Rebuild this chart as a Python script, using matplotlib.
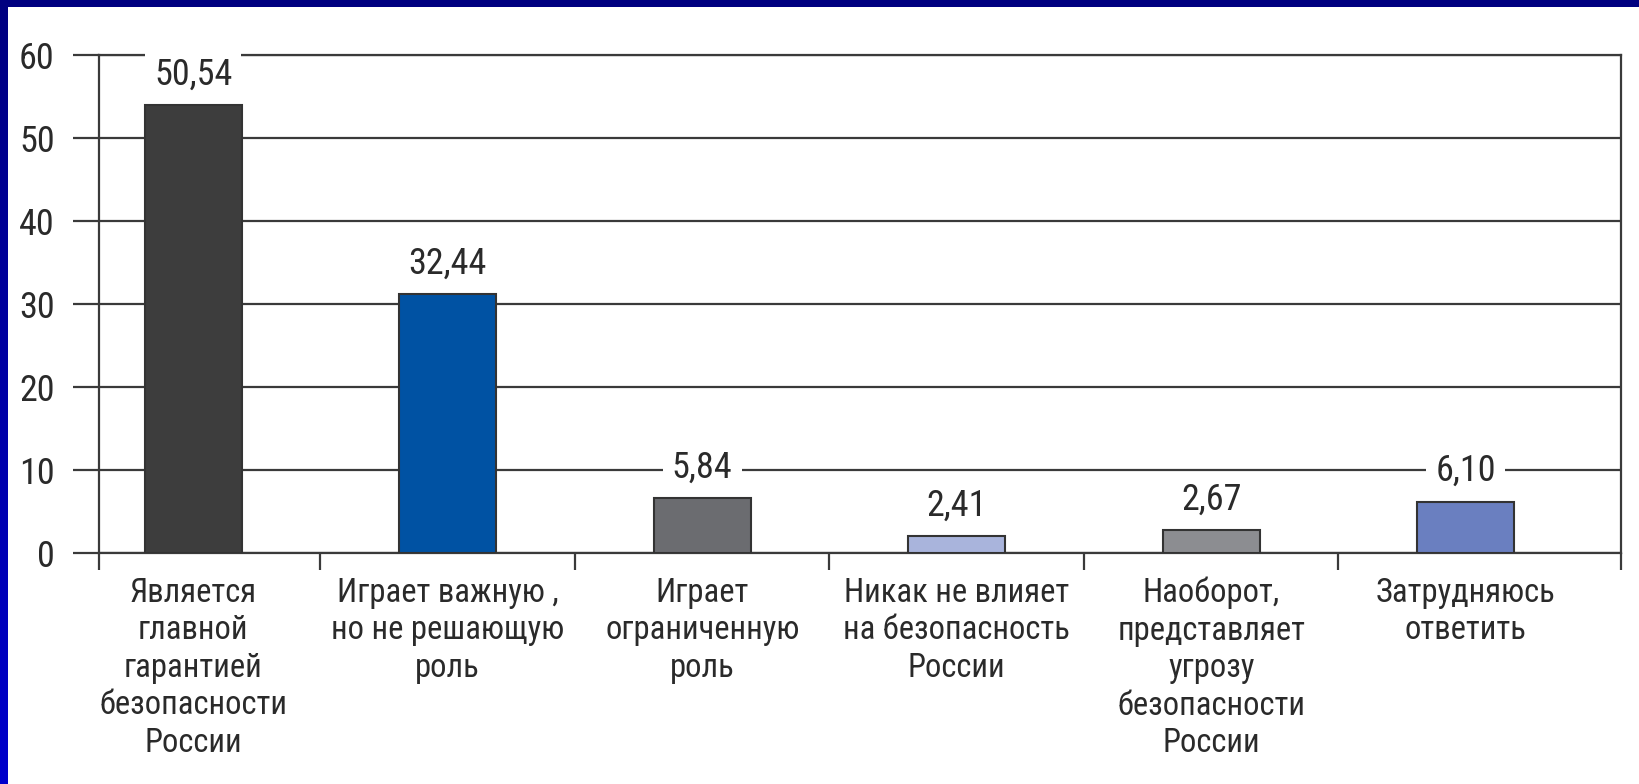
import os
import numpy as np
import matplotlib
matplotlib.use("Agg")
import matplotlib.pyplot as plt
import matplotlib.font_manager as fm
from matplotlib.patches import Rectangle
from matplotlib.colors import LinearSegmentedColormap

# answers (category labels) and bar heights as drawn in the picture
categories = [
    "Является\nглавной\nгарантией\nбезопасности\nРоссии",
    "Играет важную ,\nно не решающую\nроль",
    "Играет\nограниченную\nроль",
    "Никак не влияет\nна безопасность\nРоссии",
    "Наоборот,\nпредставляет\nугрозу\nбезопасности\nРоссии",
    "Затрудняюсь\nответить",
]
heights = [54.0, 31.2, 6.6, 2.0, 2.8, 6.2]
value_labels = ["50,54", "32,44", "5,84", "2,41", "2,67", "6,10"]
bar_colors = ["#3d3d3d", "#0052a3", "#6b6c70", "#a9b4dc", "#8c8d91", "#6a7fc0"]
yticks = [0, 10, 20, 30, 40, 50, 60]


def pick_condensed():
    # look for a narrow sans font with cyrillic, the original uses a condensed face
    best = None
    for f in fm.fontManager.ttflist:
        fn = os.path.basename(f.fname).lower()
        name = f.name.lower()
        if any(k in fn for k in ("mono", "serif", "cjk", "italic", "oblique", "bold", "light", "thin", "medium", "black", "display", "semibold", "extrabold")):
            continue
        if f.style != "normal":
            continue
        cond = f.stretch in ("condensed", "semi-condensed", "extra-condensed") \
            or "narrow" in name or "condensed" in name or "narrow" in fn or "condensed" in fn
        if not cond:
            continue
        if "liberation" in name:
            rank = 0
        elif "roboto" in name:
            rank = 1
        elif "noto sans" in name and "extra" not in fn and "semi" not in fn:
            rank = 2
        elif "dejavu" in name:
            rank = 3
        elif "open sans" in name:
            rank = 4
        else:
            rank = 9
        if best is None or rank < best[0]:
            best = (rank, f.fname)
    return best[1] if best else None


cond_path = pick_condensed()
if cond_path:
    def fp(size):
        return fm.FontProperties(fname=cond_path, size=size)
    s_num, s_cat = 26, 23.5
else:
    def fp(size):
        return fm.FontProperties(family="DejaVu Sans", size=size)
    s_num, s_cat = 22, 19

fig = plt.figure(figsize=(16.39, 7.84), dpi=100)

# blue frame: navy strip on top, gradient strip on the left
fig.patches.append(Rectangle((0, 1 - 7 / 784), 1, 7 / 784, transform=fig.transFigure,
                             facecolor="#000080", edgecolor="none", zorder=0))
bax = fig.add_axes([0, 0, 8 / 1639, 1])
grad = np.linspace(0, 1, 256).reshape(-1, 1)
cmap = LinearSegmentedColormap.from_list("frame", ["#000080", "#0000cc"])
bax.imshow(grad, aspect="auto", cmap=cmap, extent=[0, 1, 0, 1], origin="upper")
bax.axis("off")

ax = fig.add_axes([99 / 1639, 1 - 553 / 784, (1621 - 99) / 1639, (553 - 55) / 784])
x = np.arange(len(categories))
ax.bar(x, heights, width=0.38, color=bar_colors, edgecolor="#333333", linewidth=1.5, zorder=3)

for xi, h, lab in zip(x, heights, value_labels):
    ax.annotate(lab, (xi, h), xytext=(0, 9), textcoords="offset points",
                ha="center", va="bottom", fontproperties=fp(s_num), color="#2a2a2a", zorder=4,
                bbox=dict(boxstyle="square,pad=0.25", facecolor="white", edgecolor="none"))

ax.set_xlim(-0.37, 5.61)
ax.set_ylim(0, 60)
ax.set_yticks(yticks)
ax.set_yticklabels([str(t) for t in yticks], fontproperties=fp(s_num), color="#2a2a2a")
ax.yaxis.grid(True, color="#3a3a3a", linewidth=1.6, zorder=1)
ax.set_axisbelow(True)
ax.tick_params(axis="y", length=19, width=1.6, color="#3a3a3a", pad=13, direction="out")

ax.set_xticks(x)
ax.set_xticklabels(categories, fontproperties=fp(s_cat), color="#2a2a2a", linespacing=1.22, va="top")
ax.tick_params(axis="x", length=0, pad=17)
ax.set_xticks([-0.37, 0.5, 1.5, 2.5, 3.5, 4.5, 5.61], minor=True)
ax.tick_params(axis="x", which="minor", length=12, width=1.6, color="#3a3a3a", direction="out")

for s in ax.spines.values():
    s.set_color("#3a3a3a")
    s.set_linewidth(1.6)

fig.savefig("out.png", dpi=100, facecolor="white")
